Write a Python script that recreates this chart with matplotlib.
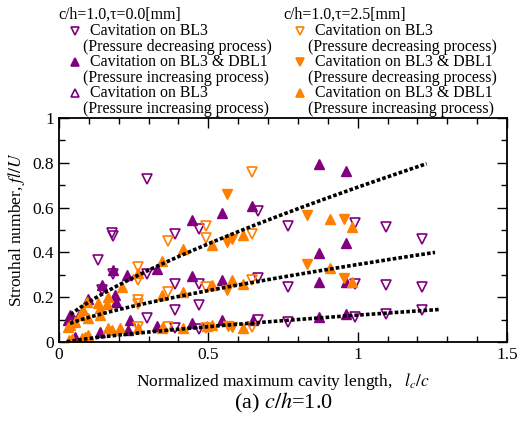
import numpy as np
import matplotlib
matplotlib.use('Agg')
import matplotlib.pyplot as plt
from matplotlib.ticker import MultipleLocator, FuncFormatter
from matplotlib.lines import Line2D

plt.rcParams['font.family'] = ['Liberation Serif', 'DejaVu Serif']
plt.rcParams['mathtext.fontset'] = 'stix'

PURPLE = '#800080'
ORANGE = '#FF8000'

# ---- data: tau = 0.0 mm ----
p_bl3_dec_x = [0.293, 0.293, 0.293, 0.176, 0.182, 0.132, 0.143, 0.182,
               0.388, 0.388, 0.388, 0.388, 0.469, 0.469, 0.469, 0.469,
               0.667, 0.667, 0.667, 0.768, 0.768, 0.768,
               0.991, 0.991, 0.991, 1.095, 1.095, 1.095, 1.214, 1.214, 1.214]
p_bl3_dec_y = [0.727, 0.302, 0.105, 0.485, 0.475, 0.365, 0.231, 0.305,
               0.483, 0.258, 0.145, 0.061, 0.505, 0.258, 0.164, 0.056,
               0.587, 0.287, 0.098, 0.520, 0.246, 0.090,
               0.530, 0.260, 0.113, 0.512, 0.256, 0.127, 0.461, 0.246, 0.142]

p_dbl_inc_x = [0.446, 0.446, 0.446, 0.545, 0.545, 0.545, 0.645, 0.648,
               0.871, 0.871, 0.871, 0.871, 0.960, 0.960, 0.960, 0.960,
               0.327, 0.327, 0.227, 0.232, 0.182, 0.187, 0.190,
               0.143, 0.137, 0.098, 0.098, 0.238, 0.037, 0.031, 0.054]
p_dbl_inc_y = [0.545, 0.293, 0.086, 0.576, 0.279, 0.100, 0.609, 0.100,
               0.794, 0.397, 0.268, 0.113, 0.764, 0.441, 0.270, 0.127,
               0.327, 0.071, 0.298, 0.053, 0.320, 0.209, 0.179,
               0.253, 0.046, 0.194, 0.024, 0.098, 0.120, 0.098, 0.021]

p_bl3_inc_x = [0.070, 0.050]
p_bl3_inc_y = [0.120, 0.100]

# ---- data: tau = 2.5 mm ----
o_bl3_dec_x = [0.645, 0.645, 0.645, 0.645, 0.491, 0.491, 0.491, 0.491,
               0.364, 0.364, 0.364, 0.266, 0.266, 0.266, 0.266, 0.266]
o_bl3_dec_y = [0.757, 0.480, 0.279, 0.068, 0.520, 0.464, 0.246, 0.061,
               0.453, 0.224, 0.068, 0.335, 0.278, 0.187, 0.169, 0.065]

o_dbl_dec_x = [0.564, 0.561, 0.578, 0.563, 0.565, 0.580, 0.829, 0.831, 0.955, 0.954]
o_dbl_dec_y = [0.661, 0.446, 0.461, 0.231, 0.070, 0.068, 0.567, 0.347, 0.550, 0.286]

o_dbl_inc_x = [0.907, 0.907, 0.980, 0.980, 0.615, 0.615, 0.615, 0.511, 0.511, 0.511,
               0.416, 0.416, 0.416, 0.344, 0.344, 0.344, 0.266, 0.266, 0.210, 0.204,
               0.165, 0.160, 0.165, 0.176, 0.132, 0.137, 0.137, 0.093, 0.098, 0.081,
               0.070, 0.054, 0.037, 0.031, 0.098, 0.087, 0.076, 0.045, 0.035,
               0.580, 0.494]
o_dbl_inc_y = [0.550, 0.330, 0.512, 0.270, 0.476, 0.260, 0.061, 0.434, 0.256, 0.076,
               0.413, 0.221, 0.064, 0.360, 0.209, 0.061, 0.310, 0.061, 0.246, 0.061,
               0.200, 0.170, 0.061, 0.053, 0.172, 0.150, 0.120, 0.179, 0.105, 0.142,
               0.120, 0.090, 0.076, 0.068, 0.031, 0.024, 0.016, 0.012, 0.008,
               0.276, 0.071]

# ---- fitted curves: y = c + a * x**b ----
fit_c = [0.068, 0.059, -0.007]
fit_a = [0.623, 0.287, 0.127]
fit_b = [0.75, 0.75, 0.75]
fit_xmin = [0.039, 0.037, 0.026]
fit_xmax = [1.231, 1.259, 1.273]

xticks = [0, 0.5, 1, 1.5]
yticks = [0, 0.2, 0.4, 0.6, 0.8, 1]

W, H = 518, 421
fig = plt.figure(figsize=(W / 100, H / 100), dpi=100)
ax = fig.add_axes([59 / W, 1 - 342 / H, 448 / W, 224 / H])

ms = 7.5
ax.plot(p_bl3_dec_x, p_bl3_dec_y, 'v', ls='none', mfc='none', mec=PURPLE, mew=1.2, ms=ms)
ax.plot(p_bl3_inc_x, p_bl3_inc_y, '^', ls='none', mfc='none', mec=PURPLE, mew=1.2, ms=ms)
ax.plot(p_dbl_inc_x, p_dbl_inc_y, '^', ls='none', mfc=PURPLE, mec=PURPLE, ms=ms)
ax.plot(o_bl3_dec_x, o_bl3_dec_y, 'v', ls='none', mfc='none', mec=ORANGE, mew=1.2, ms=ms)
ax.plot(o_dbl_dec_x, o_dbl_dec_y, 'v', ls='none', mfc=ORANGE, mec=ORANGE, ms=ms)
ax.plot(o_dbl_inc_x, o_dbl_inc_y, '^', ls='none', mfc=ORANGE, mec=ORANGE, ms=ms)

for c, a, b, x0, x1 in zip(fit_c, fit_a, fit_b, fit_xmin, fit_xmax):
    xx = np.linspace(x0, x1, 200)
    ax.plot(xx, c + a * xx ** b, color='black', lw=2.6, ls=(0, (1, 0.6)), zorder=5)

ax.set_xlim(0, 1.5)
ax.set_ylim(0, 1)
ax.set_xticks(xticks)
ax.set_yticks(yticks)
ax.xaxis.set_minor_locator(MultipleLocator(0.1))
ax.yaxis.set_minor_locator(MultipleLocator(0.1))
fmt = FuncFormatter(lambda v, p: '%g' % v)
ax.xaxis.set_major_formatter(fmt)
ax.yaxis.set_major_formatter(fmt)
ax.tick_params(which='both', direction='in', top=True, right=True, labelsize=12.5)
ax.tick_params(which='major', length=7, width=1)
ax.tick_params(which='minor', length=4, width=1)
for s in ax.spines.values():
    s.set_linewidth(1.3)

ax.set_xlabel('Normalized maximum cavity length,   $l_c/c$', fontsize=12.5, labelpad=6)
ax.set_ylabel('Strouhal number, $fl/U$', fontsize=12.5, labelpad=4)
fig.text(283 / W, 1 - 403 / H, '(a) $c/h$=1.0', ha='center', va='center', fontsize=16)

# ---- legend (drawn manually) ----
fs = 11.4
def fx(px):
    return px / W
def fy(py):
    return 1 - py / H

fig.text(fx(58), fy(15), 'c/h=1.0,τ=0.0[mm]', fontsize=fs, va='center')
fig.text(fx(283), fy(15), 'c/h=1.0,τ=2.5[mm]', fontsize=fs, va='center')

legend_rows = [
    (75, 90, 83, 31, 'v', 'none', PURPLE, 'Cavitation on BL3', '(Pressure decreasing process)'),
    (75, 90, 83, 62, '^', PURPLE, PURPLE, 'Cavitation on BL3 & DBL1', '(Pressure increasing process)'),
    (75, 90, 83, 93, '^', 'none', PURPLE, 'Cavitation on BL3', '(Pressure increasing process)'),
    (300, 315, 308, 31, 'v', 'none', ORANGE, 'Cavitation on BL3', '(Pressure decreasing process)'),
    (300, 315, 308, 62, 'v', ORANGE, ORANGE, 'Cavitation on BL3 & DBL1', '(Pressure decreasing process)'),
    (300, 315, 308, 93, '^', ORANGE, ORANGE, 'Cavitation on BL3 & DBL1', '(Pressure increasing process)'),
]
for mx, tx, px2, y, mk, fc, ec, t1, t2 in legend_rows:
    fig.add_artist(Line2D([fx(mx)], [fy(y)], transform=fig.transFigure, marker=mk,
                          ls='none', mfc=fc, mec=ec, mew=1.2, ms=6))
    fig.text(fx(tx), fy(y), t1, fontsize=fs, va='center')
    fig.text(fx(px2), fy(y + 16), t2, fontsize=fs, va='center')

fig.savefig('out.png', dpi=100)
